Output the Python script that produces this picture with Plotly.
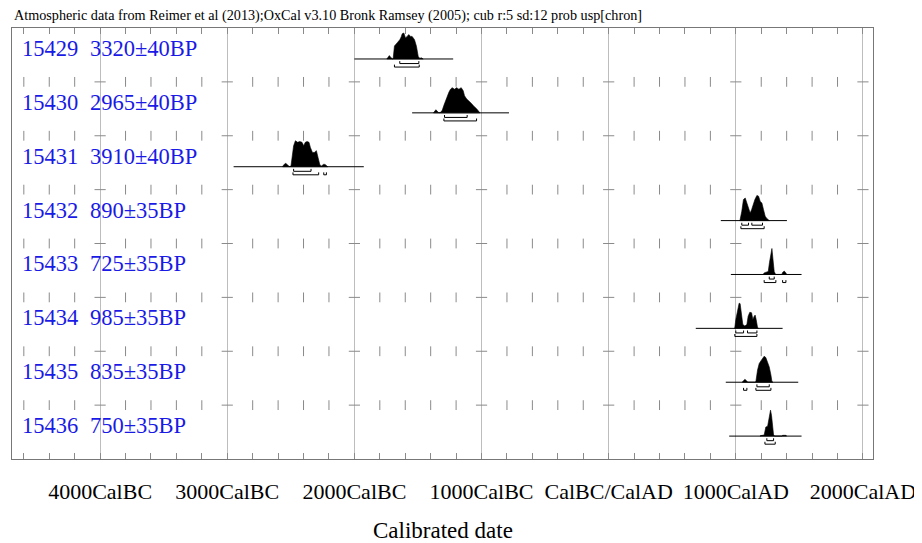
import plotly.graph_objects as go

# ---------------- data ----------------
lab_codes = ["15429", "15430", "15431", "15432", "15433", "15434", "15435", "15436"]
c14_ages = ["3320±40BP", "2965±40BP", "3910±40BP", "890±35BP",
            "725±35BP", "985±35BP", "835±35BP", "750±35BP"]

# calibrated probability curves (year: negative = BC, relative probability)
r1_years = [-1745, -1735, -1725, -1712, -1700, -1695, -1685, -1664, -1643, -1632, -1624, -1611,
            -1598, -1585, -1572, -1559, -1546, -1527, -1512, -1498, -1485, -1475, -1459]
r1_prob = [0, 0.08, 0.13, 0.05, 0, 0.02, 0.5, 0.62, 0.74, 0.85, 0.97, 1.0,
           0.81, 0.87, 0.94, 0.87, 0.87, 0.74, 0.49, 0.1, 0.02, 0.05, 0]

r2_years = [-1378, -1368, -1359, -1348, -1335, -1322, -1309, -1296, -1275, -1257, -1244, -1231,
            -1212, -1197, -1178, -1160, -1144, -1134, -1118, -1099, -1081, -1060, -1039, -1013]
r2_prob = [0, 0.08, 0.12, 0.06, 0, 0.02, 0.1, 0.29, 0.6, 0.79, 0.91, 0.97,
           0.91, 0.97, 0.91, 0.97, 0.85, 0.66, 0.54, 0.47, 0.37, 0.25, 0.16, 0]

r3_years = [-2565, -2555, -2540, -2525, -2512, -2499, -2491, -2478, -2464, -2446, -2430, -2412,
            -2399, -2386, -2372, -2357, -2346, -2330, -2315, -2299, -2286, -2273, -2262,
            -2250, -2240, -2228, -2210]
r3_prob = [0, 0.08, 0.13, 0.08, 0.01, 0.02, 0.36, 0.81, 1.0, 0.94, 0.97, 0.94,
           0.81, 0.94, 0.97, 0.94, 0.74, 0.55, 0.55, 0.62, 0.36, 0.1, 0.02,
           0.05, 0.1, 0.08, 0]

r4_years = [1030, 1034, 1047, 1060, 1074, 1087, 1100, 1113, 1124, 1137, 1150, 1166,
            1179, 1192, 1205, 1218, 1231, 1244, 1263]
r4_prob = [0, 0.04, 0.36, 0.81, 0.87, 0.68, 0.42, 0.29, 0.42, 0.62, 0.81, 0.97,
           0.94, 0.74, 0.68, 0.42, 0.17, 0.08, 0]

r5_years = [1215, 1223, 1239, 1255, 1265, 1276, 1284, 1292, 1302, 1313,
            1362, 1368, 1381, 1394, 1400]
r5_prob = [0, 0.06, 0.09, 0.11, 0.47, 0.91, 1.0, 0.6, 0.11, 0,
           0, 0.08, 0.13, 0.06, 0]

r6_years = [988, 992, 1000, 1013, 1026, 1034, 1045, 1055, 1071, 1087, 1097, 1110,
            1124, 1134, 1145, 1152, 1160, 1171, 1179]
r6_prob = [0, 0.03, 0.34, 0.72, 0.97, 0.95, 0.53, 0.15, 0.09, 0.15, 0.47, 0.62,
           0.6, 0.34, 0.47, 0.51, 0.34, 0.03, 0]

r7_years = [1050, 1058, 1071, 1084, 1094, 1150, 1158, 1171, 1184, 1197, 1210, 1223,
            1236, 1250, 1263, 1276, 1284, 1292]
r7_prob = [0, 0.06, 0.11, 0.06, 0, 0, 0.03, 0.47, 0.72, 0.82, 0.91, 1.0,
           0.95, 0.78, 0.59, 0.28, 0.03, 0]

r8_years = [1190, 1197, 1223, 1236, 1250, 1263, 1273, 1281, 1289, 1297, 1307,
            1362, 1368, 1394, 1400]
r8_prob = [0, 0.02, 0.04, 0.35, 0.375, 0.72, 1.0, 0.79, 0.22, 0.04, 0,
           0, 0.03, 0.03, 0]

curve_years = [r1_years, r2_years, r3_years, r4_years, r5_years, r6_years, r7_years, r8_years]
curve_probs = [r1_prob, r2_prob, r3_prob, r4_prob, r5_prob, r6_prob, r7_prob, r8_prob]

# extent of each plotted calibration range
range_start = [-2000, -1546, -2950, 882, 961, 685, 921, 948]
range_end = [-1223, -784, -1926, 1402, 1517, 1368, 1491, 1517]

# 68.2% and 95.4% ranges
sigma1_ranges = [
    [(-1643, -1493)],
    [(-1291, -1113)],
    [(-2478, -2341)],
    [(1047, 1100), (1126, 1210)],
    [(1263, 1302)],
    [(1000, 1061), (1092, 1166)],
    [(1166, 1263)],
    [(1244, 1297)],
]
sigma2_ranges = [
    [(-1685, -1490)],
    [(-1296, -1039)],
    [(-2483, -2281), (-2241, -2220)],
    [(1040, 1223)],
    [(1223, 1315), (1368, 1394)],
    [(992, 1166)],
    [(1061, 1087), (1158, 1276)],
    [(1229, 1310)],
]

tick_years = [-4000, -3000, -2000, -1000, 0, 1000, 2000]
tick_labels = ["4000CalBC", "3000CalBC", "2000CalBC", "1000CalBC",
               "CalBC/CalAD", "1000CalAD", "2000CalAD"]
minor_years = [y for y in range(-4600, 2001, 200) if y % 1000 != 0]

title_text = ("Atmospheric data from Reimer et al (2013);OxCal v3.10 Bronk Ramsey (2005); "
              "cub r:5 sd:12 prob usp[chron]")

# ---------------- geometry ----------------
# the page body adds an 8px offset, so the figure is laid out 8px smaller/shifted
OFF = 8
FIG_W, FIG_H = 922 - OFF, 543 - OFF
PLOT_L, PLOT_R, PLOT_T, PLOT_B = 12 - OFF, 873 - OFF, 28 - OFF, 459 - OFF
W = PLOT_R - PLOT_L

N = len(lab_codes)
BASE_OFF = 0.575
PEAK_H = 0.482
S1_OFF = 0.085
S2_OFF = 0.15
END_H = 0.045
LABEL_OFF = 0.38

SERIF = "Liberation Serif, Times New Roman, serif"
GRID = "#bdbdbd"
TICK = "#8a8a8a"
BLUE = "#1a1ae6"

fig = go.Figure()

# separator ticks between rows
sep_minor_x, sep_minor_y, sep_major_x, sep_major_y = [], [], [], []
for s in range(1, N):
    for y in minor_years:
        sep_minor_x.append(y)
        sep_minor_y.append(s)
    for y in tick_years:
        sep_major_x.append(y)
        sep_major_y.append(s)
fig.add_trace(go.Scatter(x=sep_minor_x, y=sep_minor_y, mode="markers",
                         marker=dict(symbol="line-ns", size=7, line=dict(color=TICK, width=1)),
                         hoverinfo="skip", showlegend=False))
fig.add_trace(go.Scatter(x=sep_major_x, y=sep_major_y, mode="markers",
                         marker=dict(symbol="line-ew", size=8, line=dict(color=TICK, width=1)),
                         hoverinfo="skip", showlegend=False))

annotations = []
for k in range(N):
    top = N - k
    base = top - BASE_OFF
    yrs = curve_years[k]
    pr = curve_probs[k]
    px = list(yrs) + [yrs[-1], yrs[0]]
    py = [base + PEAK_H * p for p in pr] + [base, base]
    fig.add_trace(go.Scatter(x=px, y=py, mode="lines", fill="toself",
                             fillcolor="black", line=dict(color="black", width=0.6),
                             hoverinfo="skip", showlegend=False))
    fig.add_trace(go.Scatter(x=[range_start[k], range_end[k]], y=[base, base], mode="lines",
                             line=dict(color="black", width=1), hoverinfo="skip", showlegend=False))
    bx, by = [], []
    for off, rngs in ((S1_OFF, sigma1_ranges[k]), (S2_OFF, sigma2_ranges[k])):
        yb = base - off
        for a, b in rngs:
            bx += [a, a, b, b, None]
            by += [yb + END_H, yb, yb, yb + END_H, None]
    fig.add_trace(go.Scatter(x=bx, y=by, mode="lines", line=dict(color="black", width=1),
                             hoverinfo="skip", showlegend=False))
    annotations.append(dict(x=(20 - 12) / W, xref="paper", y=top - LABEL_OFF, yref="y",
                            text=lab_codes[k], showarrow=False, xanchor="left", yanchor="middle",
                            font=dict(family=SERIF, size=22.5, color=BLUE)))
    annotations.append(dict(x=(88 - 12) / W, xref="paper", y=top - LABEL_OFF, yref="y",
                            text=c14_ages[k], showarrow=False, xanchor="left", yanchor="middle",
                            font=dict(family=SERIF, size=22.5, color=BLUE)))

annotations.append(dict(x=0, xref="paper", y=1, yref="paper", yshift=2, text=title_text,
                        showarrow=False, xanchor="left", yanchor="bottom",
                        font=dict(family=SERIF, size=14.2, color="black")))
annotations.append(dict(x=0.5, xref="paper", y=0, yref="paper", yshift=-71,
                        text="Calibrated date", showarrow=False, xanchor="center",
                        yanchor="middle", font=dict(family=SERIF, size=23, color="black")))

fig.update_layout(
    width=FIG_W, height=FIG_H,
    margin=dict(l=PLOT_L, r=FIG_W - PLOT_R, t=PLOT_T, b=FIG_H - PLOT_B),
    paper_bgcolor="white", plot_bgcolor="white",
    showlegend=False,
    annotations=annotations,
    xaxis=dict(range=[-4693, 2079], tickvals=tick_years, ticktext=tick_labels,
               ticks="inside", ticklen=6, tickcolor=TICK, tickwidth=1,
               showgrid=True, gridcolor=GRID, gridwidth=1, zeroline=False,
               showline=True, linecolor="#777", linewidth=1, mirror="ticks",
               minor=dict(tickvals=minor_years, ticks="inside", ticklen=6,
                          tickcolor=TICK, tickwidth=1, showgrid=False),
               tickfont=dict(family=SERIF, size=22, color="black"),
               ticklabelstandoff=13, automargin=False),
    yaxis=dict(range=[0, N], showgrid=False, zeroline=False, showticklabels=False,
               ticks="", showline=True, linecolor="#777", linewidth=1, mirror=True,
               automargin=False),
)

fig.write_html("out.html")
